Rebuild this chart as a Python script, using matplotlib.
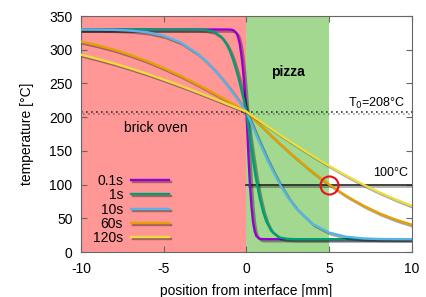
import matplotlib
matplotlib.use("Agg")
import matplotlib.pyplot as plt
import matplotlib.patheffects as pe

plt.rcParams['font.family'] = ['Liberation Sans', 'DejaVu Sans']
plt.rcParams['axes.unicode_minus'] = False

# positions [mm] and temperatures [C]
x = [-10, -9, -8, -7, -6, -5, -4, -3, -2.5, -2, -1.5, -1.2, -1, -0.8, -0.6, -0.5, -0.4,
     -0.3, -0.2, -0.1, 0, 0.1, 0.2, 0.3, 0.4, 0.5, 0.6, 0.8, 1, 1.2, 1.5, 2, 2.5, 3,
     4, 5, 6, 7, 8, 9, 10]

t_01s = [330, 330, 330, 330, 330, 330, 330, 330, 330, 330, 330, 330, 329.9, 329.1, 324.7,
         318.7, 308.3, 291.8, 268.9, 240.1, 208, 153.2, 105.4, 69.0, 44.6, 30.8, 23.8, 19.6,
         19, 19, 19, 19, 19, 19, 19, 19, 19, 19, 19, 19, 19]
t_1s = [330, 330, 330, 330, 330, 330, 330, 329.9, 329.4, 327.0, 318.7, 308.3, 298.1, 284.9,
        268.9, 259.9, 250.2, 240.1, 229.7, 218.9, 208, 189.5, 171.3, 153.6, 136.7, 120.8,
        106.0, 80.4, 60.3, 45.5, 31.3, 21.5, 19.4, 19, 19, 19, 19, 19, 19, 19, 19]
t_10s = [330, 329.8, 329.5, 328.4, 326.0, 320.7, 311.1, 295.1, 284.3, 271.8, 257.5, 248.3,
         241.9, 235.3, 228.6, 225.2, 221.8, 218.3, 214.9, 211.5, 208, 202.1, 196.3, 190.4,
         184.6, 178.8, 173.1, 161.8, 150.8, 140.0, 124.8, 101.4, 81.3, 64.9, 41.5, 28.8,
         22.7, 20.2, 19.3, 19.1, 19.0]
t_60s = [312.0, 306.5, 300.0, 292.1, 283.1, 272.7, 261.4, 249.0, 242.5, 235.8, 229.0, 224.8,
         222.1, 219.3, 216.5, 215.0, 213.6, 212.2, 210.8, 209.4, 208, 205.6, 203.2, 200.8,
         198.5, 196.1, 193.7, 188.9, 184.2, 179.6, 172.5, 161.0, 149.8, 139.0, 118.5, 100.0,
         83.6, 69.6, 57.7, 48.1, 40.4]
t_120s = [292.7, 286.5, 279.7, 272.2, 264.3, 255.7, 246.8, 237.4, 232.6, 227.8, 222.9, 219.9,
          218.0, 216.0, 214.0, 213.0, 212.0, 211.0, 210.0, 209.0, 208, 206.3, 204.6, 202.9,
          201.2, 199.5, 197.8, 194.5, 191.1, 187.7, 182.7, 174.4, 166.3, 158.2, 142.6, 127.6,
          113.7, 100.6, 88.8, 78.1, 68.4]

series = [("0.1s", t_01s, "#9400D3"),
          ("1s", t_1s, "#009E73"),
          ("10s", t_10s, "#56B4E9"),
          ("60s", t_60s, "#E69F00"),
          ("120s", t_120s, "#EDDC3F")]

T0 = 208
T_mark = 100
x_mark = 5

shadow = [pe.SimpleLineShadow(offset=(1.5, -1.5), shadow_color='k', alpha=0.35, rho=0.3),
          pe.Normal()]

fig = plt.figure(figsize=(4.26, 2.97), dpi=100)
ax = fig.add_axes([0.190, 0.1515, 0.777, 0.7945])

ax.axvspan(-10, 0, color='#FF9797', lw=0, zorder=0)
ax.axvspan(0, 5, color='#A2D88F', lw=0, zorder=0)

ax.axhline(T0, color='#333333', lw=1.2, ls=(0, (1, 2)), zorder=2,
           path_effects=shadow)
ax.plot([0, 10], [T_mark, T_mark], color='#222222', lw=1.2, zorder=2,
        path_effects=shadow)

for lab, t, c in series:
    ax.plot(x, t, color=c, lw=1.7, label=lab, zorder=3, path_effects=shadow)

ax.plot([x_mark], [T_mark], 'o', ms=13, mfc='none', mec='#E8101A', mew=1.5, zorder=4)

ax.text(2.5, 267, "pizza", ha='center', va='center', fontsize=10, fontweight='bold')
ax.text(-5.5, 184, "brick oven", ha='center', va='center', fontsize=10)
ax.text(9.6, 220, "T$_0$=208°C", ha='right', va='center', fontsize=9)
ax.text(9.75, 117, "100°C", ha='right', va='center', fontsize=9)

ax.set_xlim(-10, 10)
ax.set_ylim(0, 350)
ax.set_xticks([-10, -5, 0, 5, 10])
ax.set_yticks(range(0, 351, 50))
ax.tick_params(direction='in', length=4, top=True, right=True, labelsize=10,
               color='#666666')
ax.tick_params(axis='x', pad=7)
ax.tick_params(axis='y', pad=6)
for s in ax.spines.values():
    s.set_color('#666666')
ax.set_xlabel("position from interface [mm]", fontsize=10, labelpad=6)
ax.set_ylabel("temperature [°C]", fontsize=10, labelpad=11)

leg = ax.legend(loc='center', bbox_to_anchor=(0.151, 0.18), frameon=False,
                markerfirst=False, fontsize=10, handlelength=2.7, handletextpad=0.6,
                labelspacing=0.02, borderpad=0)

fig.savefig("out.png", dpi=100)
